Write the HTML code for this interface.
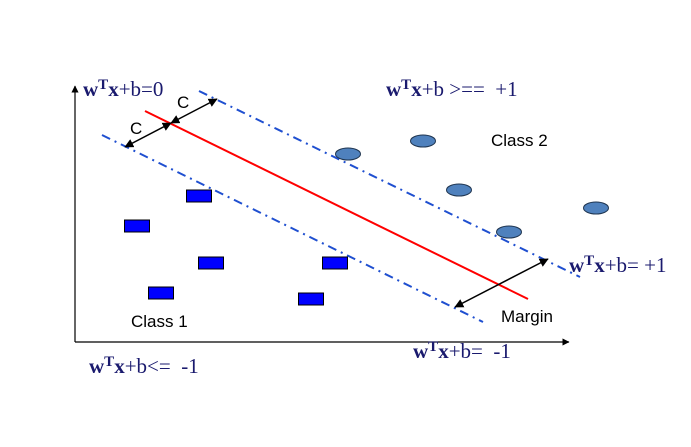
<!DOCTYPE html>
<html><head><meta charset="utf-8"><style>
body{margin:0;background:#fff;width:691px;height:442px;overflow:hidden}
.eq{font-family:"Liberation Serif",serif;font-size:21px;fill:#1a1a6e}
.eq .b{font-weight:bold}
.lab{font-family:"Liberation Sans",sans-serif;font-size:17px;fill:#000}
</style></head><body>
<svg id="chart" width="691" height="442" viewBox="0 0 691 442">
<defs><marker id="ah" markerWidth="6" markerHeight="6" refX="5.5" refY="3" orient="auto-start-reverse"><path d="M0,0 L6,3 L0,6 z" fill="#000"/></marker></defs>
<line x1="75" y1="342" x2="75" y2="86" stroke="#000" stroke-width="1.2" marker-end="url(#ah)"/>
<line x1="75" y1="342" x2="569" y2="342" stroke="#000" stroke-width="1.2" marker-end="url(#ah)"/>
<line x1="145" y1="111" x2="528" y2="299" stroke="#ff0000" stroke-width="2"/>
<line x1="199" y1="91" x2="580" y2="277" stroke="#1f4fd0" stroke-width="2" stroke-dasharray="9,5,2,5"/>
<line x1="102" y1="135" x2="483" y2="322" stroke="#1f4fd0" stroke-width="2" stroke-dasharray="9,5,2,5"/>
<line x1="125" y1="147" x2="171" y2="123" stroke="#000" stroke-width="1.5" marker-start="url(#ah)" marker-end="url(#ah)"/>
<line x1="171" y1="123" x2="217" y2="99" stroke="#000" stroke-width="1.5" marker-start="url(#ah)" marker-end="url(#ah)"/>
<line x1="455" y1="307" x2="548" y2="259" stroke="#000" stroke-width="1.5" marker-start="url(#ah)" marker-end="url(#ah)"/>
<g id="pts"></g>
<text class="lab" x="130" y="134" font-size="16">C</text>
<text class="lab" x="177" y="108" font-size="16">C</text>
<text class="eq" x="83" y="96"><tspan class="b">w</tspan><tspan class="b" font-size="15" dy="-7">T</tspan><tspan class="b" dy="7">x</tspan>+b=0</text>
<text class="eq" x="386" y="96" xml:space="preserve"><tspan class="b">w</tspan><tspan class="b" font-size="15" dy="-7">T</tspan><tspan class="b" dy="7">x</tspan>+b &gt;==  +1</text>
<text class="eq" x="569" y="272"><tspan class="b">w</tspan><tspan class="b" font-size="15" dy="-7">T</tspan><tspan class="b" dy="7">x</tspan>+b= +1</text>
<text class="eq" x="413" y="358" xml:space="preserve"><tspan class="b">w</tspan><tspan class="b" font-size="15" dy="-7">T</tspan><tspan class="b" dy="7">x</tspan>+b=  -1</text>
<text class="eq" x="89" y="373" xml:space="preserve"><tspan class="b">w</tspan><tspan class="b" font-size="15" dy="-7">T</tspan><tspan class="b" dy="7">x</tspan>+b&lt;=  -1</text>
<text class="lab" x="491" y="146">Class 2</text>
<text class="lab" x="131" y="327">Class 1</text>
<text class="lab" x="501" y="322">Margin</text>
</svg>
<script>
// data space: x 0..100 -> px 75..575 ; y 0..100 -> px 342..92
const class1X=[12.4,24.8,27.2,17.2,52,47.2];
const class1Y=[46.4,58.4,31.6,19.6,31.6,17.2];
const class2X=[54.6,69.6,76.8,86.8,104.2];
const class2Y=[75.2,80.4,60.8,44,53.6];
const sx=v=>75+v*5, sy=v=>342-v*2.5;
const g=document.getElementById('pts'),NS='http://www.w3.org/2000/svg';
class1X.forEach((v,i)=>{const r=document.createElementNS(NS,'rect');
r.setAttribute('x',sx(v)-12.5);r.setAttribute('y',sy(class1Y[i])-6);r.setAttribute('width',25);r.setAttribute('height',12);
r.setAttribute('fill','#0000ff');r.setAttribute('stroke','#000');r.setAttribute('stroke-width','1');


g.appendChild(r);});
class2X.forEach((v,i)=>{const e=document.createElementNS(NS,'ellipse');
e.setAttribute('cx',sx(v));e.setAttribute('cy',sy(class2Y[i]));e.setAttribute('rx',12.5);e.setAttribute('ry',6);
e.setAttribute('fill','#4f81bd');e.setAttribute('stroke','#1f3550');e.setAttribute('stroke-width','1');


g.appendChild(e);});
</script>
</body></html>
